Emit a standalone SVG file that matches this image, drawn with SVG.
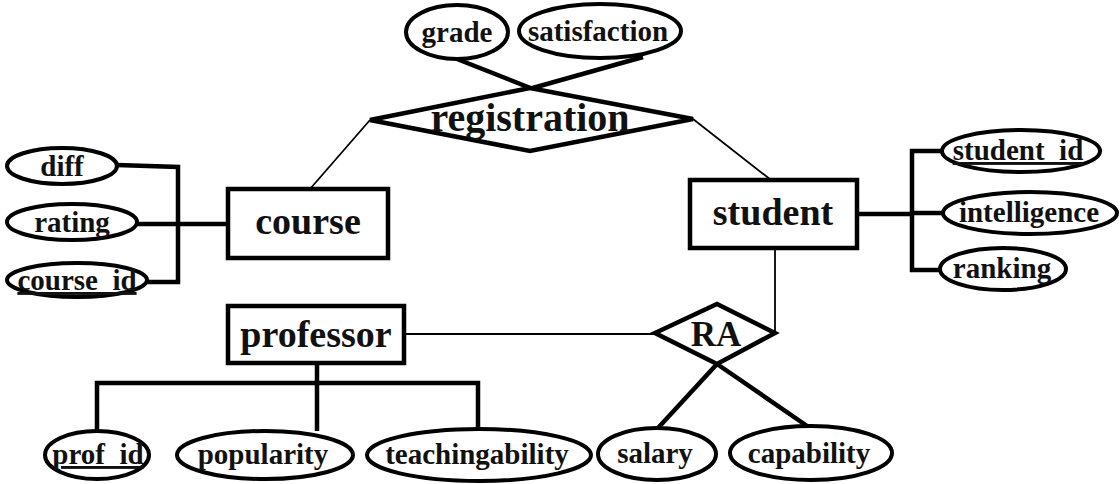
<svg xmlns="http://www.w3.org/2000/svg" width="1120" height="484" viewBox="0 0 1120 484">
  <style>
    .ent { fill: #fff; stroke: #000; stroke-width: 4.5; }
    .rel { fill: #fff; stroke: #000; stroke-width: 4.5; stroke-linejoin: miter; }
    .att { fill: #fff; stroke: #000; stroke-width: 4; }
    .thin { fill: none; stroke: #000; stroke-width: 1.8; }
    .thick { fill: none; stroke: #000; stroke-width: 4.5; stroke-linejoin: miter; }
    text { font-family: "Liberation Serif", "Times New Roman", serif; fill: #111; text-anchor: middle; font-weight: bold; }
    .big { font-size: 38px; }
    .huge { font-size: 40px; }
    .mid { font-size: 35px; }
    .small { font-size: 29px; }
    .key { text-decoration: underline; }
  </style>
  <rect width="1120" height="484" fill="#fff"/>

  <!-- connectors -->
  <g id="connectors">
    <!-- registration links -->
    <line class="thin" x1="370" y1="120" x2="310" y2="189"/>
    <line class="thin" x1="693" y1="119" x2="771" y2="180"/>
    <line class="thick" x1="457" y1="59" x2="538" y2="91"/>
    <line class="thick" x1="643" y1="57" x2="522" y2="91"/>
    <!-- course attributes -->
    <polyline class="thick" points="117,165 178,167 178,282 148,282"/>
    <line class="thick" x1="137" y1="224" x2="228" y2="224"/>
    <!-- student attributes -->
    <line class="thick" x1="857" y1="214" x2="912" y2="214"/>
    <polyline class="thick" points="942,151 912,151 912,270 940,270"/>
    <line class="thick" x1="912" y1="213" x2="942" y2="213"/>
    <!-- RA links -->
    <polyline class="thin" points="775,248 775,333"/>
    <line class="thin" x1="404" y1="334" x2="655" y2="334"/>
    <line class="thick" x1="717" y1="364" x2="658" y2="428"/>
    <line class="thick" x1="717" y1="364" x2="810" y2="428"/>
    <!-- professor attributes -->
    <line class="thick" x1="317" y1="363" x2="317" y2="431"/>
    <polyline class="thick" points="97,431 97,383 478,383 478,428"/>
  </g>

  <!-- entities -->
  <g id="course">
    <rect class="ent" x="228" y="189" width="160" height="69"/>
    <text class="big" x="308" y="234">course</text>
  </g>
  <g id="student">
    <rect class="ent" x="690" y="180" width="167" height="68"/>
    <text class="big" x="773" y="225">student</text>
  </g>
  <g id="professor">
    <rect class="ent" x="228" y="306" width="176" height="57"/>
    <text class="big" x="316" y="347">professor</text>
  </g>

  <!-- relationships -->
  <g id="registration">
    <polygon class="rel" points="370,120 530,88 693,119 530,151"/>
    <text class="huge" x="530" y="131">registration</text>
  </g>
  <g id="ra">
    <polygon class="rel" points="655,333 717,304 775,333 717,364"/>
    <text class="mid" x="716" y="346">RA</text>
  </g>

  <!-- attributes -->
  <g id="grade">
    <ellipse class="att" cx="457" cy="32" rx="51" ry="27"/>
    <text class="small" x="457" y="42">grade</text>
  </g>
  <g id="satisfaction">
    <ellipse class="att" cx="600" cy="31" rx="81" ry="27"/>
    <text class="small" x="598" y="41">satisfaction</text>
  </g>
  <g id="diff">
    <ellipse class="att" cx="62" cy="166" rx="55" ry="18"/>
    <text class="small" x="62" y="176">diff</text>
  </g>
  <g id="rating">
    <ellipse class="att" cx="72" cy="222" rx="65" ry="18"/>
    <text class="small" x="72" y="232">rating</text>
  </g>
  <g id="course_id">
    <ellipse class="att" cx="77" cy="280" rx="70" ry="17"/>
    <text class="small key" x="77" y="290">course_id</text>
  </g>
  <g id="student_id">
    <ellipse class="att" cx="1021" cy="151" rx="79" ry="21"/>
    <text class="small key" x="1018" y="160">student_id</text>
  </g>
  <g id="intelligence">
    <ellipse class="att" cx="1030" cy="213" rx="87" ry="21"/>
    <text class="small" x="1029" y="222">intelligence</text>
  </g>
  <g id="ranking">
    <ellipse class="att" cx="1003" cy="269" rx="63" ry="21"/>
    <text class="small" x="1002" y="278">ranking</text>
  </g>
  <g id="prof_id">
    <ellipse class="att" cx="97" cy="455" rx="52" ry="24"/>
    <text class="small key" x="98" y="464">prof_id</text>
  </g>
  <g id="popularity">
    <ellipse class="att" cx="265" cy="455" rx="88" ry="24"/>
    <text class="small" x="263" y="464">popularity</text>
  </g>
  <g id="teachingability">
    <ellipse class="att" cx="479" cy="455" rx="112" ry="26"/>
    <text class="small" x="477" y="464">teachingability</text>
  </g>
  <g id="salary">
    <ellipse class="att" cx="657" cy="454" rx="59" ry="26"/>
    <text class="small" x="655" y="463">salary</text>
  </g>
  <g id="capability">
    <ellipse class="att" cx="811" cy="453" rx="81" ry="27"/>
    <text class="small" x="809" y="463">capability</text>
  </g>
</svg>
